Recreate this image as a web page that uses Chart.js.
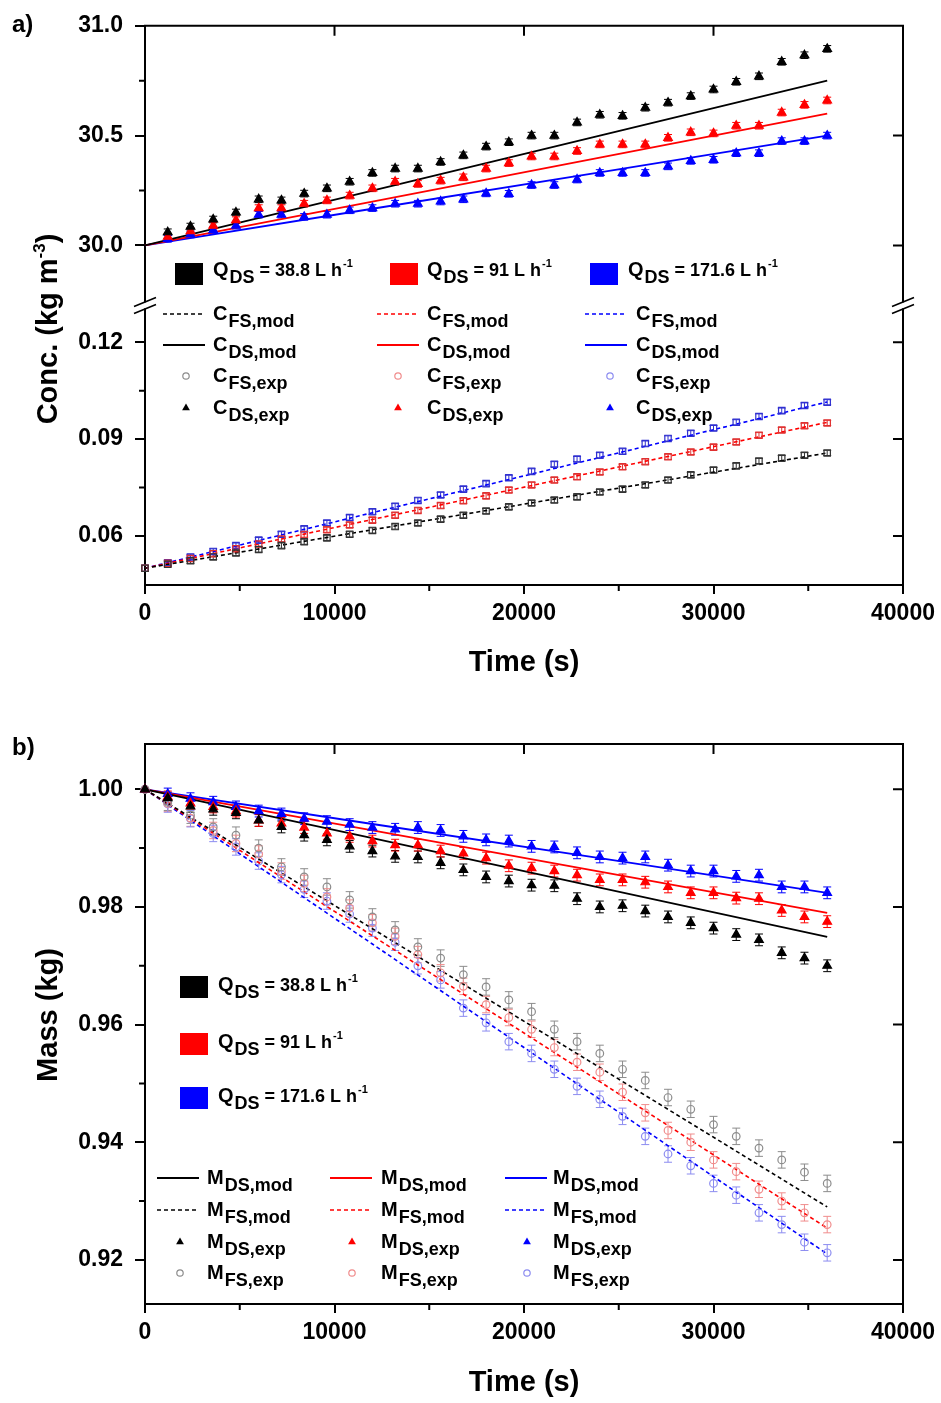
<!DOCTYPE html>
<html lang="en">
<head>
<meta charset="utf-8">
<title>Concentration and mass vs time</title>
<script src="https://cdn.jsdelivr.net/npm/chart.js@4.4.1/dist/chart.umd.min.js"></script>
<style>
  html, body { margin: 0; padding: 0; background: #fff; }
  canvas { display: block; }
</style>
</head>
<body>
<canvas id="chartA" width="941" height="700"></canvas>
<canvas id="chartB" width="941" height="703"></canvas>
<script>
// time axis (s)
const timeExp = [0, 1200, 2400, 3600, 4800, 6000, 7200, 8400, 9600, 10800, 12000, 13200, 14400, 15600, 16800,
  18000, 19200, 20400, 21600, 22800, 24000, 25200, 26400, 27600, 28800, 30000, 31200, 32400, 33600, 34800, 36000];
const timeMod = [0, 12000, 24000, 36000];
const ticksTime = [0, 10000, 20000, 30000, 40000];
const minorTime = [5000, 15000, 25000, 35000];

// one run per draw solution flow rate
const flowRates = ['38.8', '91', '171.6'];
const runColors = ['#000000', '#ff0000', '#0000ff'];
const faintColors = ['#8c8c8c', '#f08c8c', '#8c8cf0'];

// a) draw solution conc. (upper part of the broken axis)
const cdsExp38 = [null, 30.06, 30.086, 30.118, 30.15, 30.21, 30.205, 30.236, 30.26, 30.29, 30.33, 30.35, 30.35, 30.38, 30.41,
  30.45, 30.47, 30.50, 30.50, 30.56, 30.595, 30.59, 30.627, 30.65, 30.68, 30.71, 30.745, 30.77, 30.836, 30.866, 30.895];
const cdsExp91 = [null, 30.04, 30.065, 30.09, 30.115, 30.17, 30.17, 30.19, 30.205, 30.227, 30.26, 30.29, 30.28, 30.295, 30.31,
  30.35, 30.375, 30.405, 30.405, 30.43, 30.46, 30.46, 30.46, 30.49, 30.515, 30.51, 30.545, 30.545, 30.605, 30.64, 30.66];
const cdsExp171 = [null, 30.03, 30.05, 30.07, 30.09, 30.14, 30.14, 30.13, 30.14, 30.16, 30.17, 30.19, 30.19, 30.20, 30.21,
  30.237, 30.235, 30.275, 30.275, 30.30, 30.33, 30.33, 30.33, 30.36, 30.385, 30.39, 30.42, 30.42, 30.475, 30.475, 30.50];
const cdsMod38 = [30.0, 30.25, 30.5, 30.75];
const cdsMod91 = [30.0, 30.2, 30.4, 30.6];
const cdsMod171 = [30.0, 30.167, 30.333, 30.5];

// a) feed solution conc. (lower part of the broken axis)
const cfsExp38 = [0.0500, 0.0512, 0.0523, 0.0535, 0.0547, 0.0558, 0.0570, 0.0582, 0.0594, 0.0605, 0.0617, 0.0629, 0.0640, 0.0652, 0.0664,
  0.0677, 0.0690, 0.0702, 0.0711, 0.0721, 0.0736, 0.0745, 0.0758, 0.0773, 0.0789, 0.0804, 0.0817, 0.0832, 0.0841, 0.0850, 0.0857];
const cfsExp91 = [0.0500, 0.0515, 0.0530, 0.0545, 0.0560, 0.0575, 0.0590, 0.0604, 0.0619, 0.0634, 0.0649, 0.0664, 0.0679, 0.0694, 0.0709,
  0.0724, 0.0742, 0.0758, 0.0773, 0.0783, 0.0798, 0.0814, 0.0830, 0.0845, 0.0860, 0.0875, 0.0891, 0.0912, 0.0928, 0.0941, 0.0950];
const cfsExp171 = [0.0500, 0.0517, 0.0535, 0.0552, 0.0570, 0.0587, 0.0605, 0.0622, 0.0640, 0.0657, 0.0675, 0.0692, 0.0710, 0.0727, 0.0745,
  0.0762, 0.0780, 0.0800, 0.0822, 0.0838, 0.0850, 0.0862, 0.0886, 0.0902, 0.0918, 0.0934, 0.0952, 0.0970, 0.0988, 0.1004, 0.1014];
const cfsMod38 = [0.050, 0.0619, 0.0738, 0.0857];
const cfsMod91 = [0.050, 0.0651, 0.0801, 0.0952];
const cfsMod171 = [0.050, 0.0672, 0.0843, 0.1015];

// b) draw solution mass
const mdsExp38 = [1.0, 0.9985, 0.9971, 0.9966, 0.9960, 0.9947, 0.9936, 0.9922, 0.9914, 0.9903, 0.9895, 0.9886, 0.9885, 0.9875, 0.9863,
  0.9851, 0.9844, 0.9837, 0.9836, 0.9814, 0.9800, 0.9802, 0.9793, 0.9783, 0.9773, 0.9764, 0.9753, 0.9744, 0.9722, 0.9713, 0.9700];
const mdsExp91 = [1.0, 0.9987, 0.9976, 0.9970, 0.9963, 0.9947, 0.9942, 0.9935, 0.9925, 0.9920, 0.9912, 0.9905, 0.9905, 0.9895, 0.9891,
  0.9883, 0.9870, 0.9866, 0.9861, 0.9854, 0.9846, 0.9846, 0.9842, 0.9834, 0.9824, 0.9824, 0.9815, 0.9814, 0.9794, 0.9783, 0.9775];
const mdsExp171 = [1.0, 0.9992, 0.9984, 0.9978, 0.9970, 0.9963, 0.9958, 0.9950, 0.9945, 0.9940, 0.9935, 0.9932, 0.9935, 0.9930, 0.9920,
  0.9914, 0.9912, 0.9903, 0.9902, 0.9892, 0.9885, 0.9883, 0.9885, 0.9871, 0.9861, 0.9861, 0.9852, 0.9854, 0.9834, 0.9834, 0.9824];
const mdsMod38 = [1.0, 0.9917, 0.9833, 0.9749];
const mdsMod91 = [1.0, 0.9930, 0.9860, 0.9790];
const mdsMod171 = [1.0, 0.9941, 0.9883, 0.9824];

// b) feed solution mass
const mfsExp38 = [1.0, 0.9978, 0.9956, 0.9936, 0.9922, 0.9900, 0.9868, 0.9851, 0.9834, 0.9812, 0.9783, 0.9761, 0.9732, 0.9713, 0.9685,
  0.9664, 0.9642, 0.9622, 0.9592, 0.9571, 0.9551, 0.9524, 0.9505, 0.9476, 0.9456, 0.9430, 0.9410, 0.9390, 0.9370, 0.9349, 0.9330];
const mfsExp91 = [1.0, 0.9976, 0.9951, 0.9930, 0.9908, 0.9890, 0.9861, 0.9840, 0.9817, 0.9798, 0.9773, 0.9750, 0.9719, 0.9688, 0.9665,
  0.9634, 0.9612, 0.9592, 0.9561, 0.9536, 0.9519, 0.9485, 0.9450, 0.9420, 0.9400, 0.9370, 0.9350, 0.9320, 0.9300, 0.9280, 0.9260];
const mfsExp171 = [1.0, 0.9975, 0.9950, 0.9925, 0.9902, 0.9878, 0.9855, 0.9830, 0.9810, 0.9788, 0.9764, 0.9740, 0.9700, 0.9676, 0.9628,
  0.9603, 0.9571, 0.9551, 0.9524, 0.9495, 0.9473, 0.9444, 0.9410, 0.9380, 0.9360, 0.9330, 0.9310, 0.9280, 0.9260, 0.9230, 0.9212];
const mfsMod38 = [1.0, 0.9763, 0.9527, 0.9290];
const mfsMod91 = [1.0, 0.9751, 0.9503, 0.9254];
const mfsMod171 = [1.0, 0.9737, 0.9473, 0.9210];

// half height of the error bars
const errCds = 0.015, errCfs = 0.0008, errMds = 0.001, errMfs = 0.0014;

// y ticks
const ticksConcTop = [30.0, 30.5, 31.0];
const minorConcTop = [30.25, 30.75];
const ticksConcBot = [0.06, 0.09, 0.12];
const minorConcBot = [0.075, 0.105];
const ticksMass = [0.92, 0.94, 0.96, 0.98, 1.00];
const minorMass = [0.93, 0.95, 0.97, 0.99];

const FONT = '"Liberation Sans", Arial, Helvetica, sans-serif';
Chart.defaults.font.family = FONT;
Chart.defaults.color = '#000';

function pts(xs, ys){ return xs.map((x, i) => ({ x: x, y: ys[i] })); }

function modLine(ys, color, axis, dashed){
  return { data: pts(timeMod, ys), yAxisID: axis, showLine: true, borderColor: color,
    borderWidth: dashed ? 1.6 : 1.8, borderDash: dashed ? [4, 3] : [], pointRadius: 0, pointHoverRadius: 0, clip: false };
}
function expPts(ys, color, axis, style, fill, r, err){
  return { data: pts(timeExp, ys), yAxisID: axis, showLine: false, pointStyle: style, pointRadius: r, pointHoverRadius: r,
    pointBorderWidth: 1.2, pointBorderColor: color, pointBackgroundColor: fill, err: err, clip: false };
}

function xAxis(height, titlePad){
  return {
    type: 'linear', position: 'bottom', min: 0, max: 40000,
    afterBuildTicks: s => { s.ticks = ticksTime.map(v => ({ value: v })); },
    afterFit: s => { s.height = height; },
    ticks: { font: { size: 23, weight: 'bold' }, color: '#000', padding: 6, maxRotation: 0, autoSkip: false, callback: v => String(v) },
    grid: { drawOnChartArea: false, tickLength: 9, color: '#000', lineWidth: 2 },
    border: { display: true, color: '#000', width: 2 },
    title: { display: true, text: 'Time (s)', color: '#000', font: { size: 29, weight: 'bold' }, padding: { top: 0, bottom: titlePad } }
  };
}
function yAxis(min, max, ticks, digits, extra){
  return Object.assign({
    type: 'linear', position: 'left', min: min, max: max,
    afterBuildTicks: s => { s.ticks = ticks.map(v => ({ value: v })); },
    afterFit: s => { s.width = 145; },
    ticks: { font: { size: 23, weight: 'bold' }, color: '#000', padding: 12, autoSkip: false, callback: v => Number(v).toFixed(digits) },
    grid: { drawOnChartArea: false, tickLength: 10, color: '#000', lineWidth: 2 },
    border: { display: true, color: '#000', width: 2 }
  }, extra || {});
}

// error bars go under the markers
const errorBars = {
  id: 'errorBars',
  beforeDatasetsDraw(chart){
    const ctx = chart.ctx, sx = chart.scales.x;
    chart.data.datasets.forEach(ds => {
      if(!ds.err) return;
      const sy = chart.scales[ds.yAxisID];
      ctx.save();
      ctx.strokeStyle = ds.pointBorderColor; ctx.lineWidth = 1;
      ds.data.forEach(p => {
        if(p.y === null || p.x === 0) return;
        const px = sx.getPixelForValue(p.x), hi = sy.getPixelForValue(p.y + ds.err), lo = sy.getPixelForValue(p.y - ds.err);
        ctx.beginPath();
        ctx.moveTo(px, hi); ctx.lineTo(px, lo);
        ctx.moveTo(px - 4, hi); ctx.lineTo(px + 4, hi);
        ctx.moveTo(px - 4, lo); ctx.lineTo(px + 4, lo);
        ctx.stroke();
      });
      ctx.restore();
    });
  }
};

// box frame, mirrored ticks, minor ticks and the axis break
const frame = {
  id: 'frame',
  afterDraw(chart, args, opts){
    const ctx = chart.ctx, a = chart.chartArea, sx = chart.scales.x;
    const seg = (x1, y1, x2, y2) => { ctx.moveTo(x1, y1); ctx.lineTo(x2, y2); };
    ctx.save();
    ctx.strokeStyle = '#000'; ctx.lineWidth = 2;
    ctx.beginPath();
    seg(a.left - 1, a.top, a.right + 1, a.top); seg(a.right, a.top, a.right, a.bottom);
    ticksTime.forEach(v => { const px = sx.getPixelForValue(v); if(px > a.left + 2 && px < a.right - 2) seg(px, a.top, px, a.top + 10); });
    minorTime.forEach(v => { const px = sx.getPixelForValue(v); seg(px, a.bottom, px, a.bottom + 6); });
    opts.axes.forEach(ax => {
      const sy = chart.scales[ax.id];
      ax.major.forEach(v => { const py = sy.getPixelForValue(v); if(py > a.top + 2 && py < a.bottom - 2) seg(a.right - 10, py, a.right, py); });
      ax.minor.forEach(v => { const py = sy.getPixelForValue(v); seg(a.left - 6, py, a.left, py); });
    });
    ctx.stroke();
    if(opts.breakAxis){
      const b = chart.scales[opts.breakAxis].bottom;
      [a.left, a.right].forEach(x => {
        ctx.fillStyle = '#fff'; ctx.fillRect(x - 3, b - 3, 6, 6);
        ctx.beginPath(); ctx.lineWidth = 1.6;
        seg(x - 11, b + 1, x + 11, b - 8); seg(x - 11, b + 8, x + 11, b - 1);
        ctx.stroke();
      });
    }
    ctx.restore();
  }
};

// text helpers: main letter, subscript, rest and superscript
function symText(ctx, x, y, main, sub, rest, sup){
  ctx.fillStyle = '#000'; ctx.textBaseline = 'middle'; ctx.textAlign = 'left';
  ctx.font = 'bold 20px ' + FONT; ctx.fillText(main, x, y); x += ctx.measureText(main).width + 1;
  ctx.font = 'bold 18px ' + FONT; ctx.fillText(sub, x, y + 8); x += ctx.measureText(sub).width;
  if(rest){ ctx.fillText(rest, x, y + 1); x += ctx.measureText(rest).width; }
  if(sup){ ctx.font = 'bold 11px ' + FONT; ctx.fillText(sup, x + 1, y - 6); }
}
function sample(ctx, kind, color, x, y){
  ctx.save();
  ctx.strokeStyle = color; ctx.fillStyle = color;
  if(kind === 'line' || kind === 'dash'){
    ctx.lineWidth = kind === 'line' ? 1.8 : 1.6;
    ctx.setLineDash(kind === 'dash' ? [4, 3] : []);
    ctx.beginPath(); ctx.moveTo(x, y); ctx.lineTo(x + 42, y); ctx.stroke();
  } else if(kind === 'circle'){
    ctx.lineWidth = 1.2; ctx.beginPath(); ctx.arc(x, y, 3.2, 0, Math.PI * 2); ctx.stroke();
  } else {
    const r = 4.5;
    ctx.beginPath(); ctx.moveTo(x, y - r); ctx.lineTo(x + r * 0.866, y + r * 0.5); ctx.lineTo(x - r * 0.866, y + r * 0.5); ctx.closePath(); ctx.fill();
  }
  ctx.restore();
}
function yTitle(ctx, x, y, parts){
  ctx.save(); ctx.translate(x, y); ctx.rotate(-Math.PI / 2);
  ctx.textBaseline = 'middle'; ctx.textAlign = 'left'; ctx.fillStyle = '#000';
  let w = 0;
  parts.forEach(p => { ctx.font = 'bold ' + p[1] + 'px ' + FONT; w += ctx.measureText(p[0]).width; });
  let cx = -w / 2;
  parts.forEach(p => { ctx.font = 'bold ' + p[1] + 'px ' + FONT; ctx.fillText(p[0], cx, p[2]); cx += ctx.measureText(p[0]).width; });
  ctx.restore();
}
function panelLabel(ctx, text, x, y){
  ctx.save(); ctx.font = 'bold 24px ' + FONT; ctx.fillStyle = '#000'; ctx.textBaseline = 'middle'; ctx.textAlign = 'left';
  ctx.fillText(text, x, y); ctx.restore();
}

const notesA = {
  id: 'notesA',
  afterDraw(chart){
    const ctx = chart.ctx;
    panelLabel(ctx, 'a)', 12, 25);
    yTitle(ctx, 49, 329, [['Conc. (kg m', 29, 0], ['-3', 17, -9], [')', 29, 0]]);
    flowRates.forEach((q, i) => {
      ctx.fillStyle = runColors[i]; ctx.fillRect([175, 390, 590][i], 263, 28, 22);
      symText(ctx, [213, 427, 628][i], 270, 'Q', 'DS', ' = ' + q + ' L h', '-1');
      const lx = [163, 377, 585][i], tx = [213, 427, 636][i], mx = [186, 398, 610][i];
      sample(ctx, 'dash', runColors[i], lx, 314); symText(ctx, tx, 314, 'C', 'FS,mod');
      sample(ctx, 'line', runColors[i], lx, 345); symText(ctx, tx, 345, 'C', 'DS,mod');
      sample(ctx, 'circle', faintColors[i], mx, 376); symText(ctx, tx, 376, 'C', 'FS,exp');
      sample(ctx, 'triangle', runColors[i], mx, 408); symText(ctx, tx, 408, 'C', 'DS,exp');
    });
  }
};

const notesB = {
  id: 'notesB',
  afterDraw(chart){
    const ctx = chart.ctx;
    panelLabel(ctx, 'b)', 12, 48);
    yTitle(ctx, 49, 315, [['Mass (kg)', 29, 0]]);
    flowRates.forEach((q, i) => {
      const cy = [287, 344, 398][i];
      ctx.fillStyle = runColors[i]; ctx.fillRect(180, cy - 11, 28, 22);
      symText(ctx, 218, cy - 2, 'Q', 'DS', ' = ' + q + ' L h', '-1');
      const lx = [157, 330, 505][i], tx = [207, 381, 553][i], mx = [180, 352, 527][i];
      sample(ctx, 'line', runColors[i], lx, 478); symText(ctx, tx, 478, 'M', 'DS,mod');
      sample(ctx, 'dash', runColors[i], lx, 510); symText(ctx, tx, 510, 'M', 'FS,mod');
      sample(ctx, 'triangle', runColors[i], mx, 542); symText(ctx, tx, 542, 'M', 'DS,exp');
      sample(ctx, 'circle', faintColors[i], mx, 573); symText(ctx, tx, 573, 'M', 'FS,exp');
    });
  }
};

const baseOptions = {
  responsive: false, animation: false, devicePixelRatio: 1, events: [],
  plugins: { legend: { display: false }, tooltip: { enabled: false } }
};

// a) concentration, broken y axis built from two stacked scales
new Chart(document.getElementById('chartA'), {
  type: 'scatter',
  data: { datasets: [
    expPts(cdsExp38, runColors[0], 'yTop', 'triangle', runColors[0], 5, errCds),
    expPts(cdsExp91, runColors[1], 'yTop', 'triangle', runColors[1], 5, errCds),
    expPts(cdsExp171, runColors[2], 'yTop', 'triangle', runColors[2], 5, errCds),
    expPts(cfsExp38, '#333333', 'yBot', 'rect', 'rgba(255,255,255,0)', 4.5, errCfs),
    expPts(cfsExp91, '#e03030', 'yBot', 'rect', 'rgba(255,255,255,0)', 4.5, errCfs),
    expPts(cfsExp171, '#3030d0', 'yBot', 'rect', 'rgba(255,255,255,0)', 4.5, errCfs),
    modLine(cdsMod38, runColors[0], 'yTop', false),
    modLine(cdsMod91, runColors[1], 'yTop', false),
    modLine(cdsMod171, runColors[2], 'yTop', false),
    modLine(cfsMod38, runColors[0], 'yBot', true),
    modLine(cfsMod91, runColors[1], 'yBot', true),
    modLine(cfsMod171, runColors[2], 'yBot', true)
  ]},
  options: Object.assign({}, baseOptions, {
    layout: { padding: { left: 0, right: 38, top: 25, bottom: 0 } },
    scales: {
      x: xAxis(115, 20),
      yBot: yAxis(0.0448, 0.1314, ticksConcBot, 2, { stack: 'conc', stackWeight: 1 }),
      yTop: yAxis(29.727, 31.0, ticksConcTop, 1, { stack: 'conc', stackWeight: 1 })
    },
    plugins: Object.assign({}, baseOptions.plugins, {
      frame: { axes: [{ id: 'yTop', major: ticksConcTop, minor: minorConcTop }, { id: 'yBot', major: ticksConcBot, minor: minorConcBot }], breakAxis: 'yTop' }
    })
  }),
  plugins: [errorBars, frame, notesA]
});

// b) mass
new Chart(document.getElementById('chartB'), {
  type: 'scatter',
  data: { datasets: [
    expPts(mdsExp38, runColors[0], 'y', 'triangle', runColors[0], 5, errMds),
    expPts(mdsExp91, runColors[1], 'y', 'triangle', runColors[1], 5, errMds),
    expPts(mdsExp171, runColors[2], 'y', 'triangle', runColors[2], 5, errMds),
    expPts(mfsExp38, faintColors[0], 'y', 'circle', 'rgba(255,255,255,0)', 3.8, errMfs),
    expPts(mfsExp91, faintColors[1], 'y', 'circle', 'rgba(255,255,255,0)', 3.8, errMfs),
    expPts(mfsExp171, faintColors[2], 'y', 'circle', 'rgba(255,255,255,0)', 3.8, errMfs),
    modLine(mdsMod38, runColors[0], 'y', false),
    modLine(mdsMod91, runColors[1], 'y', false),
    modLine(mdsMod171, runColors[2], 'y', false),
    modLine(mfsMod38, runColors[0], 'y', true),
    modLine(mfsMod91, runColors[1], 'y', true),
    modLine(mfsMod171, runColors[2], 'y', true)
  ]},
  options: Object.assign({}, baseOptions, {
    layout: { padding: { left: 0, right: 38, top: 44, bottom: 0 } },
    scales: {
      x: xAxis(99, 3),
      y: yAxis(0.9125, 1.0077, ticksMass, 2)
    },
    plugins: Object.assign({}, baseOptions.plugins, {
      frame: { axes: [{ id: 'y', major: ticksMass, minor: minorMass }] }
    })
  }),
  plugins: [errorBars, frame, notesB]
});
</script>
</body>
</html>
